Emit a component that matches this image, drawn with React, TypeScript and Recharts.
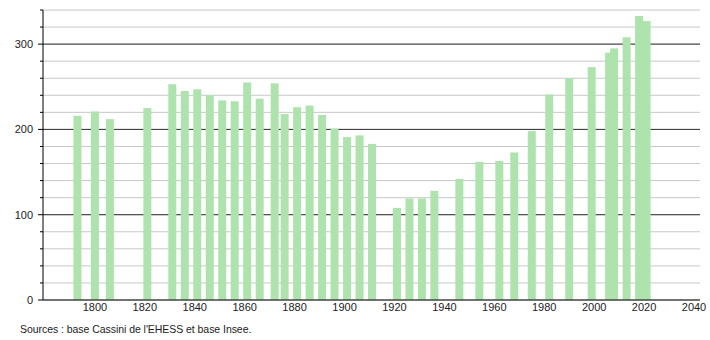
import { BarChart, Bar, XAxis, YAxis, CartesianGrid } from 'recharts'

const years = [
    1793, 1800, 1806, 1821, 1831, 1836, 1841, 1846, 1851, 1856, 1861, 1866, 1872, 1876, 1881, 1886, 1891,
    1896, 1901, 1906, 1911, 1921, 1926, 1931, 1936, 1946, 1954, 1962, 1968, 1975, 1982, 1990, 1999, 2006,
    2008, 2013, 2018, 2021,
]
const population = [
    216, 221, 212, 225, 253, 245, 247, 240, 234, 233, 255, 236, 254, 218, 226, 228, 217,
    201, 191, 193, 183, 108, 119, 119, 128, 142, 162, 163, 173, 198, 241, 260, 273, 290,
    295, 308, 333, 327,
]
const xTicks = [1800, 1820, 1840, 1860, 1880, 1900, 1920, 1940, 1960, 1980, 2000, 2020, 2040]
const yTicks = [0, 20, 40, 60, 80, 100, 120, 140, 160, 180, 200, 220, 240, 260, 280, 300, 320, 340]
const majorTicks = [100, 200, 300]

const data = years.map((year, i) => ({ year, pop: population[i] }))

const font = '"Liberation Sans", Arial, sans-serif'
const BAR_W = 8

function YTick(props: any) {
    const { x, y, payload } = props
    const major = payload.value % 100 === 0
    return (
        <g>
            <line x1={x - (major ? 5 : 3)} x2={x} y1={y} y2={y} stroke="#000" />
            {major && (
                <text x={x - 10} y={y} dy="0.35em" textAnchor="end" fill="#222" fontSize={11} fontFamily={font}>
                    {payload.value}
                </text>
            )}
        </g>
    )
}

// recharts shrinks bars to the smallest gap between years, so widen them around their centre
function WideBar(props: any) {
    const { x, y, width, height, fill } = props
    const cx = x + width / 2
    return <rect x={cx - BAR_W / 2} y={y} width={BAR_W} height={height} fill={fill} />
}

export default function App() {
    return (
        <div style={{ position: 'absolute', left: 0, top: 0, width: 710, height: 340, background: '#fff' }}>
            <BarChart width={710} height={340} data={data} margin={{ top: 10, right: 10, left: 0, bottom: 20 }}>
                <CartesianGrid vertical={false} stroke="#c8c8c8" horizontalValues={yTicks} />
                <CartesianGrid vertical={false} stroke="#333" horizontalValues={majorTicks} />
                <XAxis
                    dataKey="year"
                    type="number"
                    domain={[1779.2, 2042.4]}
                    ticks={xTicks}
                    allowDataOverflow
                    height={20}
                    tickLine={false}
                    tickSize={0}
                    tickMargin={3}
                    stroke="#000"
                    tick={{ fill: '#222', fontSize: 11, fontFamily: font }}
                />
                <YAxis
                    width={43}
                    domain={[0, 340]}
                    ticks={yTicks}
                    interval={0}
                    tickLine={false}
                    tickSize={0}
                    tickMargin={0}
                    stroke="#000"
                    tick={<YTick />}
                />
                <Bar dataKey="pop" fill="#aee3ae" shape={<WideBar />} isAnimationActive={false} />
            </BarChart>
            <div
                style={{
                    position: 'absolute',
                    left: 20,
                    top: 323,
                    fontSize: 10.5,
                    letterSpacing: -0.05,
                    fontFamily: font,
                    color: '#222',
                }}
            >
                Sources : base Cassini de l'EHESS et base Insee.
            </div>
        </div>
    )
}
